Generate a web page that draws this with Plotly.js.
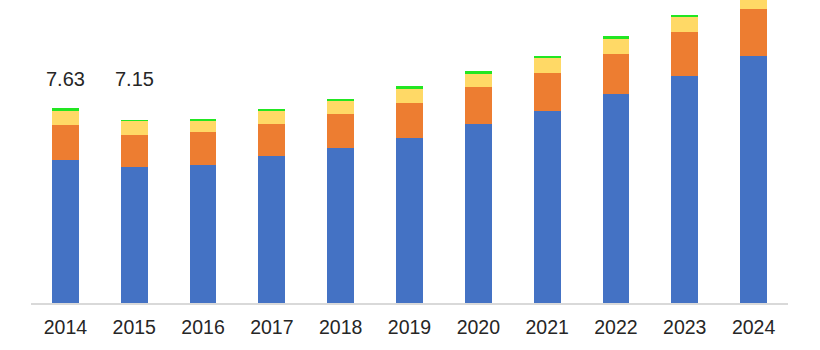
<!DOCTYPE html>
<html><head><meta charset="utf-8">
<script src="https://cdn.plot.ly/plotly-3.0.1.min.js"></script>
<style>html,body{margin:0;padding:0;background:#fff;}#c{width:820px;height:350px;}</style>
</head><body><div id="c"></div>
<script>
const years = ['2014','2015','2016','2017','2018','2019','2020','2021','2022','2023','2024'];
const seriesBlue   = [5.60, 5.30, 5.40, 5.74, 6.07, 6.46, 6.97, 7.50, 8.15, 8.87, 9.66];
const seriesOrange = [1.36, 1.26, 1.26, 1.23, 1.30, 1.36, 1.46, 1.49, 1.57, 1.70, 1.82];
const seriesYellow = [0.53, 0.53, 0.43, 0.53, 0.53, 0.52, 0.51, 0.58, 0.57, 0.58, 0.60];
const seriesGreen  = [0.14, 0.06, 0.08, 0.07, 0.05, 0.13, 0.13, 0.07, 0.14, 0.08, 0.10];
const labelYears = ['2014','2015'];
const labelTexts = ['7.63','7.15'];

const font = 'Arial, "Liberation Sans", sans-serif';
function tr(y, color){ return {type:'bar', x:years, y:y, marker:{color:color, line:{width:0}}, hoverinfo:'skip'}; }
const data = [tr(seriesBlue,'#4472C4'), tr(seriesOrange,'#ED7D31'), tr(seriesYellow,'#FFD966'), tr(seriesGreen,'#22E622')];
const annotations = labelYears.map((yr,i)=>({x:years.indexOf(yr), xref:'x', y:0.74, yref:'paper', text:labelTexts[i], showarrow:false,
  font:{family:font, size:20, color:'#262626'}, xanchor:'center', yanchor:'middle'}));
const layout = {
  width:820, height:350, barmode:'stack', bargap:0.61, showlegend:false,
  margin:{l:31, r:32, t:0, b:46.5, pad:0},
  paper_bgcolor:'#fff', plot_bgcolor:'#fff',
  xaxis:{type:'category', range:[-0.5, years.length-0.5], showline:true, linecolor:'#d9d9d9', linewidth:2, ticks:'', showgrid:false,
    ticklabelstandoff:6, tickfont:{family:font, size:19.5, color:'#262626'}, fixedrange:true},
  yaxis:{range:[0, 11.83], visible:false, showgrid:false, zeroline:false, fixedrange:true},
  annotations: annotations
};
Plotly.newPlot('c', data, layout, {staticPlot:true, displayModeBar:false});
</script></body></html>
